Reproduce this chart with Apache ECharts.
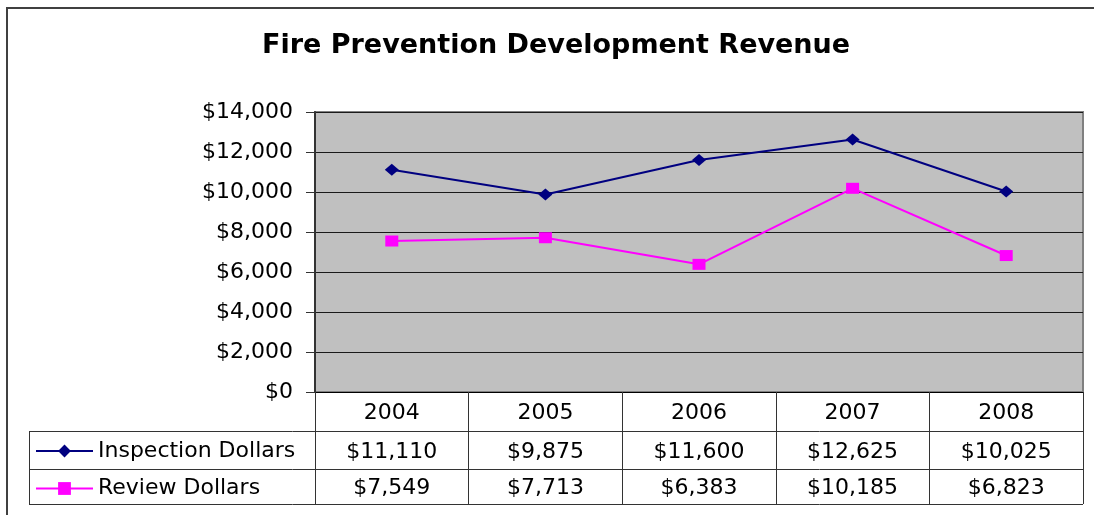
<!DOCTYPE html>
<html>
<head>
<meta charset="utf-8">
<title>Fire Prevention Development Revenue</title>
<script src="https://cdn.jsdelivr.net/npm/echarts@6/dist/echarts.min.js"></script>
<style>
	html, body { margin: 0; padding: 0; background: #fff; }
	#chart { width: 1094px; height: 515px; }
</style>
</head>
<body>
<div id="chart"></div>
<script>
// chart data
var years = ['2004', '2005', '2006', '2007', '2008']
var inspectionDollars = [11110, 9875, 11600, 12625, 10025]
var reviewDollars = [7549, 7713, 6383, 10185, 6823]
var seriesNames = ['Inspection Dollars', 'Review Dollars']
var yTicks = [0, 2000, 4000, 6000, 8000, 10000, 12000, 14000]

var font = 'DejaVu Sans'
var money = function (v) {
	return '$' + v.toLocaleString('en-US')
}

// plot box and data table rows (y of each row's bottom line)
var gridLeft = 315, gridRight = 1083, gridTop = 112, gridBottom = 392
var rowLines = [431, 469, 504]
var tableLeft = 29

var chart = echarts.init(document.getElementById('chart'), null, { renderer: 'canvas' })

var lineStyle = { stroke: '#333', lineWidth: 1 }
var tableLines = rowLines.map(function (y) {
	return {
		type: 'line',
		shape: { x1: tableLeft, y1: y + 0.5, x2: gridRight, y2: y + 0.5 },
		style: lineStyle,
		silent: true
	}
})
tableLines.push({
	type: 'line',
	shape: { x1: tableLeft + 0.5, y1: rowLines[0] + 0.5, x2: tableLeft + 0.5, y2: rowLines[2] + 0.5 },
	style: lineStyle,
	silent: true
})

var legendText = { fontFamily: font, fontSize: 22, color: '#000', lineHeight: 26 }

chart.setOption({
	animation: false,
	backgroundColor: '#fff',
	textStyle: { fontFamily: font },
	title: {
		text: 'Fire Prevention Development Revenue',
		left: 257,
		top: 27,
		textStyle: {
			fontFamily: font,
			fontSize: 27,
			fontWeight: 'bold',
			color: '#000'
		}
	},
	grid: {
		left: gridLeft,
		right: 1094 - gridRight,
		top: gridTop,
		bottom: 515 - gridBottom,
		show: true,
		backgroundColor: '#c0c0c0',
		borderColor: '#808080',
		borderWidth: 2
	},
	legend: [
		{
			data: [seriesNames[0]],
			left: 35,
			top: (rowLines[0] + rowLines[1]) / 2 - 12,
			padding: 0,
			itemWidth: 57,
			itemHeight: 16,
			textStyle: legendText
		},
		{
			data: [seriesNames[1]],
			left: 35,
			top: (rowLines[1] + rowLines[2]) / 2 - 11,
			padding: 0,
			itemWidth: 57,
			itemHeight: 16,
			textStyle: legendText
		}
	],
	xAxis: {
		type: 'category',
		data: years,
		boundaryGap: true,
		axisLine: { lineStyle: { color: '#000', width: 1 } },
		axisTick: {
			show: true,
			length: rowLines[2] - gridBottom,
			lineStyle: { color: '#333', width: 1 }
		},
		axisLabel: {
			margin: 2,
			interval: 0,
			formatter: function (v, i) {
				return '{y|' + v + '}\n{a|' + money(inspectionDollars[i]) + '}\n{b|' + money(reviewDollars[i]) + '}'
			},
			rich: {
				y: { fontFamily: font, fontSize: 22, color: '#000', lineHeight: rowLines[0] - gridBottom, align: 'center' },
				a: { fontFamily: font, fontSize: 22, color: '#000', lineHeight: rowLines[1] - rowLines[0], align: 'center' },
				b: { fontFamily: font, fontSize: 22, color: '#000', lineHeight: rowLines[2] - rowLines[1], align: 'center' }
			}
		},
		splitLine: { show: false }
	},
	yAxis: {
		type: 'value',
		min: yTicks[0],
		max: yTicks[yTicks.length - 1],
		interval: 2000,
		axisLine: { show: true, lineStyle: { color: '#333', width: 2 } },
		axisTick: { show: true, length: 9, lineStyle: { color: '#333' } },
		axisLabel: {
			margin: 22,
			fontFamily: font,
			fontSize: 22,
			color: '#000',
			formatter: money
		},
		splitLine: { show: true, lineStyle: { color: '#1a1a1a', width: 1 } }
	},
	series: [
		{
			name: seriesNames[0],
			type: 'line',
			data: inspectionDollars,
			symbol: 'diamond',
			symbolSize: [14, 12],
			color: '#000080',
			lineStyle: { color: '#000080', width: 2 },
			itemStyle: { color: '#000080' }
		},
		{
			name: seriesNames[1],
			type: 'line',
			data: reviewDollars,
			symbol: 'rect',
			symbolSize: [13, 11],
			color: '#ff00ff',
			lineStyle: { color: '#ff00ff', width: 2 },
			itemStyle: { color: '#ff00ff' }
		}
	],
	graphic: [
		{
			type: 'rect',
			shape: { x: 7, y: 8, width: 1200, height: 600 },
			style: { fill: null, stroke: '#404040', lineWidth: 2 },
			silent: true,
			z: -1
		}
	].concat(tableLines)
})
</script>
</body>
</html>
